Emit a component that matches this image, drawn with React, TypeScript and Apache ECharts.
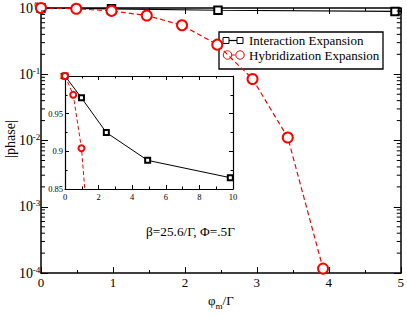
import React, { useEffect, useRef } from "react";
import * as echarts from "echarts";

// ---- data ----
const INTERACTION_X = [0, 0.98, 2.46, 4.92, 9.84];
const INTERACTION_Y = [1.0, 0.971, 0.925, 0.888, 0.865];
const HYBRID_X = [0, 0.49, 0.98, 1.47, 1.96, 2.45, 2.94, 3.43, 3.92];
const HYBRID_Y = [1.0, 0.975, 0.904, 0.77, 0.55, 0.28, 0.085, 0.0111, 0.000117];

const MAIN_X_TICKS = [0, 1, 2, 3, 4, 5];
const INSET_X_TICKS = [0, 2, 4, 6, 8, 10];
const INSET_Y_TICKS = [0.85, 0.9, 0.95, 1];
const LOG_DECADES = [1e-4, 1e-3, 1e-2, 1e-1];
const LOG_MINOR_MULT = [2, 3, 4, 5, 6, 7, 8, 9];

const SERIES_NAMES = ["Interaction Expansion", "Hybridization Expansion"];
const ANNOTATION = "β=25.6/Γ, Φ=.5Γ";

const FONT = "Liberation Serif";
const RED = "#ff0000";
const BLACK = "#000000";

const pairs = (xs: number[], ys: number[]) => xs.map((x, i) => [x, ys[i]]);

export default function App() {
  const ref = useRef<HTMLDivElement>(null);
  useEffect(() => {
    document.body.style.margin = "0";
    if (!ref.current) return;
    const chart = echarts.init(ref.current, undefined, { renderer: "svg" });

    const xMin = MAIN_X_TICKS[0];
    const xMax = MAIN_X_TICKS[MAIN_X_TICKS.length - 1];
    const minorData: number[][] = [];
    LOG_DECADES.forEach((d) =>
      LOG_MINOR_MULT.forEach((m) => minorData.push([xMin, m * d]))
    );

    const axisLineStyle = { color: BLACK, width: 1.5 };
    const insetLineStyle = { color: BLACK, width: 1.2 };

    const mainX = (pos: "bottom" | "top", show: boolean) => ({
      type: "value",
      gridIndex: 0,
      position: pos,
      min: xMin,
      max: xMax,
      interval: 1,
      axisLine: { show: true, onZero: false, lineStyle: axisLineStyle },
      axisTick: { show: true, inside: true, length: 6, lineStyle: { color: BLACK, width: 1 } },
      minorTick: { show: true, splitNumber: 2, length: 3, lineStyle: { color: BLACK, width: 1 } },
      axisLabel: {
        show,
        margin: 3,
        fontFamily: FONT,
        fontSize: 13,
        color: BLACK,
      },
      splitLine: { show: false },
      ...(show
        ? {
            name: "{a|φ}{m|m}{a|/Γ}",
            nameLocation: "middle",
            nameGap: 14,
            nameTextStyle: {
              fontFamily: FONT,
              rich: {
                a: { fontFamily: FONT, fontSize: 13, color: BLACK, lineHeight: 16, verticalAlign: "top" },
                m: { fontFamily: FONT, fontSize: 9, color: BLACK, verticalAlign: "bottom", lineHeight: 16 },
              },
            },
          }
        : {}),
    });

    const mainY = (pos: "left" | "right", show: boolean) => ({
      type: "log",
      logBase: 10,
      gridIndex: 0,
      position: pos,
      min: LOG_DECADES[0],
      max: 1,
      axisLine: { show: true, onZero: false, lineStyle: axisLineStyle },
      axisTick: { show: true, inside: true, length: 7, lineStyle: { color: BLACK, width: 1 } },
      axisLabel: {
        show,
        margin: 1,
        fontFamily: FONT,
        formatter: (v: number) => `{b|10}{s|${Math.round(Math.log10(v))}}`,
        rich: {
          b: { fontFamily: FONT, fontSize: 14, color: BLACK, lineHeight: 16 },
          s: { fontFamily: FONT, fontSize: 9, color: BLACK, verticalAlign: "top", width: 7, align: "left" },
        },
      },
      splitLine: { show: false },
    });

    const insetX = (pos: "bottom" | "top", show: boolean) => ({
      type: "value",
      gridIndex: 1,
      position: pos,
      min: INSET_X_TICKS[0],
      max: INSET_X_TICKS[INSET_X_TICKS.length - 1],
      interval: 2,
      axisLine: { show: true, onZero: false, lineStyle: insetLineStyle },
      axisTick: { show: true, inside: true, length: 4, lineStyle: { color: BLACK, width: 1 } },
      minorTick: { show: true, splitNumber: 2, length: 2.5, lineStyle: { color: BLACK, width: 1 } },
      axisLabel: { show, margin: 3, fontFamily: FONT, fontSize: 8.5, color: BLACK },
      splitLine: { show: false },
      z: 12,
    });

    const insetY = (pos: "left" | "right", show: boolean) => ({
      type: "value",
      gridIndex: 1,
      position: pos,
      min: INSET_Y_TICKS[0],
      max: INSET_Y_TICKS[INSET_Y_TICKS.length - 1],
      interval: 0.05,
      axisLine: { show: true, onZero: false, lineStyle: insetLineStyle },
      axisTick: { show: true, inside: true, length: 4, lineStyle: { color: BLACK, width: 1 } },
      minorTick: { show: true, splitNumber: 2, length: 2.5, lineStyle: { color: BLACK, width: 1 } },
      axisLabel: {
        show,
        margin: 2,
        fontFamily: FONT,
        fontSize: 8.5,
        color: BLACK,
        formatter: (v: number) => String(Number(v.toFixed(2))),
      },
      splitLine: { show: false },
      z: 12,
    });

    const option: any = {
      animation: false,
      backgroundColor: "#ffffff",
      textStyle: { fontFamily: FONT },
      grid: [
        { left: 41, top: 8, width: 361, height: 275, containLabel: false },
        {
          left: 65,
          top: 76,
          width: 168,
          height: 113,
          show: true,
          backgroundColor: "#ffffff",
          borderWidth: 0,
          z: 10,
        },
      ],
      xAxis: [mainX("bottom", true), mainX("top", false), insetX("bottom", true), insetX("top", false)],
      yAxis: [mainY("left", true), mainY("right", false), insetY("left", true), insetY("right", false)],
      series: [
        {
          type: "custom",
          name: "minorTicks",
          xAxisIndex: 0,
          yAxisIndex: 0,
          silent: true,
          clip: false,
          encode: { x: 0, y: 1 },
          data: minorData,
          z: 5,
          renderItem: (params: any, api: any) => {
            const v = api.value(1);
            const pL = api.coord([xMin, v]);
            const pR = api.coord([xMax, v]);
            const st = { stroke: BLACK, lineWidth: 1 };
            return {
              type: "group",
              children: [
                { type: "line", shape: { x1: pL[0], y1: pL[1], x2: pL[0] + 4, y2: pL[1] }, style: st },
                { type: "line", shape: { x1: pR[0] - 4, y1: pR[1], x2: pR[0], y2: pR[1] }, style: st },
              ],
            };
          },
        },
        {
          type: "line",
          name: SERIES_NAMES[0],
          xAxisIndex: 0,
          yAxisIndex: 0,
          data: pairs(INTERACTION_X, INTERACTION_Y),
          symbol: "emptyRect",
          symbolSize: 7.5,
          lineStyle: { color: BLACK, width: 1.2 },
          itemStyle: { color: BLACK, borderColor: BLACK, borderWidth: 0.9 },
          z: 3,
        },
        {
          type: "line",
          name: SERIES_NAMES[1],
          xAxisIndex: 0,
          yAxisIndex: 0,
          data: pairs(HYBRID_X, HYBRID_Y),
          symbol: "emptyCircle",
          symbolSize: 10,
          lineStyle: { color: RED, width: 1.2, type: [5, 3] },
          itemStyle: { color: RED, borderColor: RED, borderWidth: 0.9 },
          z: 4,
        },
        {
          type: "line",
          name: SERIES_NAMES[0] + " inset",
          xAxisIndex: 2,
          yAxisIndex: 2,
          data: pairs(INTERACTION_X, INTERACTION_Y),
          symbol: "emptyRect",
          symbolSize: 5,
          lineStyle: { color: BLACK, width: 1 },
          itemStyle: { color: BLACK, borderColor: BLACK, borderWidth: 0.9 },
          z: 13,
        },
        {
          type: "line",
          name: SERIES_NAMES[1] + " inset",
          xAxisIndex: 2,
          yAxisIndex: 2,
          data: pairs(HYBRID_X, HYBRID_Y),
          symbol: "emptyCircle",
          symbolSize: 6,
          lineStyle: { color: RED, width: 1, type: [4, 2.5] },
          itemStyle: { color: RED, borderColor: RED, borderWidth: 0.9 },
          z: 14,
        },
      ],
      graphic: [
        {
          type: "text",
          x: 10,
          y: 139,
          rotation: Math.PI / 2,
          style: { text: "|phase|", fontFamily: FONT, fontSize: 14, fill: BLACK, align: "center", verticalAlign: "middle" },
        },
        {
          type: "text",
          x: 146,
          y: 231,
          style: {
            text: ANNOTATION,
            fontFamily: FONT,
            fontSize: 13.3,
            fill: BLACK,
            verticalAlign: "middle",
            align: "left",
          },
          z: 20,
        },
        {
          type: "group",
          x: 219,
          y: 32,
          z: 20,
          children: [
            {
              type: "rect",
              shape: { x: 0, y: 0, width: 164, height: 37 },
              style: { fill: "#ffffff", stroke: BLACK, lineWidth: 1.3 },
            },
            { type: "line", shape: { x1: 7, y1: 8.5, x2: 21, y2: 8.5 }, style: { stroke: BLACK, lineWidth: 1.2 } },
            { type: "rect", shape: { x: 4, y: 5.5, width: 6, height: 6 }, style: { fill: "#fff", stroke: BLACK, lineWidth: 1 } },
            { type: "rect", shape: { x: 18, y: 5.5, width: 6, height: 6 }, style: { fill: "#fff", stroke: BLACK, lineWidth: 1 } },
            {
              type: "text",
              x: 30,
              y: 8.5,
              style: { text: SERIES_NAMES[0], fontFamily: FONT, fontSize: 13, fill: BLACK, verticalAlign: "middle" },
            },
            { type: "line", shape: { x1: 8, y1: 23, x2: 21, y2: 23 }, style: { stroke: RED, lineWidth: 1.2, lineDash: [3, 2] } },
            { type: "circle", shape: { cx: 8.5, cy: 23, r: 4.2 }, style: { fill: "#fff", stroke: RED, lineWidth: 1 } },
            { type: "circle", shape: { cx: 21, cy: 23, r: 4.2 }, style: { fill: "#fff", stroke: RED, lineWidth: 1 } },
            {
              type: "text",
              x: 30,
              y: 23,
              style: { text: SERIES_NAMES[1], fontFamily: FONT, fontSize: 13, fill: BLACK, verticalAlign: "middle" },
            },
          ],
        },
      ],
    };

    chart.setOption(option);
    return () => chart.dispose();
  }, []);
  return <div ref={ref} style={{ width: 407, height: 315 }} />;
}
